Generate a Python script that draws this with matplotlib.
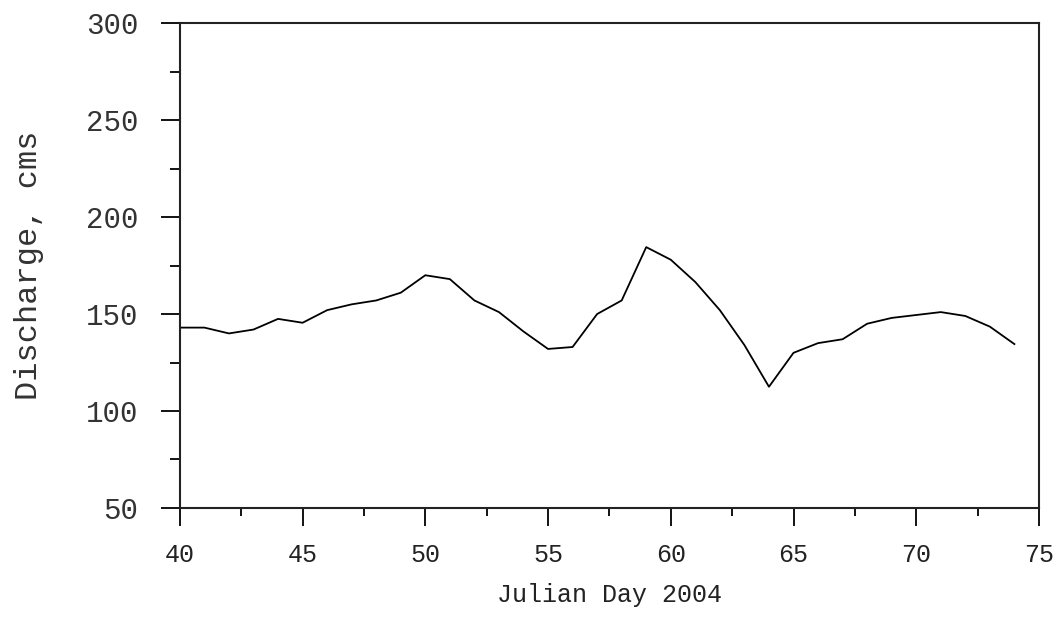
import numpy as np
import matplotlib.pyplot as plt
from matplotlib.ticker import MultipleLocator

days = list(range(40, 75))
discharge = [143, 143, 140, 142, 147.5, 145.5, 152, 155, 157, 161, 170,
             168, 157, 151, 141, 132, 133, 150, 157, 184.5, 178, 166.5,
             152, 134, 112.5, 130, 135, 137, 145, 148, 149.5, 151, 149,
             143.5, 134.5]

plt.rcParams["font.family"] = ["Liberation Mono", "DejaVu Sans Mono"]

fig = plt.figure(figsize=(10.58, 6.33), dpi=100)
ax = fig.add_axes([0.170, 0.1975, 0.812, 0.766])
ax.plot(days, discharge, color="black", linewidth=1.3)

ax.set_xlim(40, 75)
ax.set_ylim(50, 300)
ax.xaxis.set_major_locator(MultipleLocator(5))
ax.xaxis.set_minor_locator(MultipleLocator(2.5))
ax.yaxis.set_major_locator(MultipleLocator(50))
ax.yaxis.set_minor_locator(MultipleLocator(25))

ax.tick_params(axis="y", which="major", direction="out", length=14, width=1.3,
               labelsize=21, pad=16, colors="black", labelcolor="#333333")
ax.tick_params(axis="y", which="minor", direction="out", length=7, width=1.3)
ax.tick_params(axis="x", which="major", direction="out", length=13, width=1.3,
               labelsize=18, pad=12, labelcolor="#222222")
ax.tick_params(axis="x", which="minor", direction="out", length=6, width=1.3)

for s in ax.spines.values():
    s.set_linewidth(1.5)
    s.set_color("#222222")

ax.set_ylabel("Discharge, cms", fontsize=23, color="#333333", labelpad=30)
ax.set_xlabel("Julian Day 2004", fontsize=18, color="#222222", labelpad=12)

fig.savefig("out.png", dpi=100)
